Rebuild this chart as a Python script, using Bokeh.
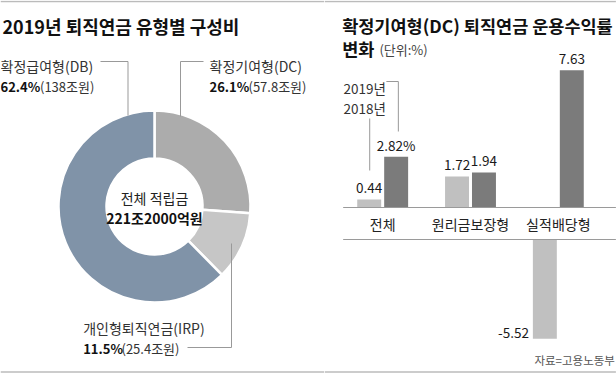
import math
from bokeh.plotting import figure
from bokeh.layouts import row
from bokeh.models import Range1d, FactorRange, ColumnDataSource
from bokeh.transform import dodge
from bokeh.core.properties import value
from bokeh.embed import file_html
from bokeh.resources import INLINE

# ---------------- data ----------------
left_title = "2019년 퇴직연금 유형별 구성비"
pie_names = ["확정기여형(DC)", "개인형퇴직연금(IRP)", "확정급여형(DB)"]
pie_shares = [26.1, 11.5, 62.4]
pie_amounts = ["57.8조원", "25.4조원", "138조원"]
pie_colors = ["#acacac", "#c6c6c6", "#8093a8"]
center_caption = "전체 적립금"
center_total = "221조2000억원"

right_title_1 = "확정기여형(DC) 퇴직연금 운용수익률"
right_title_2 = "변화"
right_unit = "(단위:%)"
categories = ["전체", "원리금보장형", "실적배당형"]
years = ["2018년", "2019년"]
returns_2018 = [0.44, 1.72, -5.52]
returns_2019 = [2.82, 1.94, 7.63]
labels_2018 = ["0.44", "1.72", "-5.52"]
labels_2019 = ["2.82%", "1.94", "7.63"]
source_note = "자료=고용노동부"

# ---------------- styling / layout ----------------
KR = "Noto Sans CJK KR"
SPLIT = 324          # x where the right panel starts
REF_W, REF_H = 616, 373
W_LEFT, W_RIGHT, H = SPLIT, REF_W - SPLIT, REF_H
BORDER = "#bbbbbb"
LEADER = "#999999"
C18, C19 = "#c0c0c0", "#7b7b7b"


def txt(p, x, y, s, size, bold=False, align="left", color="#222222", baseline="middle"):
    p.text(x=[x], y=[y], text=[s], text_font=value(KR), text_font_size=f"{size}px",
           text_font_style="bold" if bold else "normal", text_align=align,
           text_baseline=baseline, text_color=color)


def blank(p):
    p.grid.grid_line_color = None
    p.outline_line_color = None
    p.background_fill_color = "white"
    p.border_fill_color = "white"


# ---------------- left panel: donut ----------------
pl = figure(width=W_LEFT, height=H, x_range=Range1d(0, SPLIT), y_range=Range1d(REF_H, 0),
            output_backend="svg", toolbar_location=None, x_axis_location=None,
            y_axis_location=None, min_border=0)
blank(pl)

pl.line([0, SPLIT], [1, 1], line_color=BORDER, line_width=1.5)
pl.line([0, SPLIT], [371.5, 371.5], line_color=BORDER, line_width=1.5)

total = sum(pie_shares)
cum = [0.0]
for s in pie_shares:
    cum.append(cum[-1] + s)
starts = [math.pi / 2 - 2 * math.pi * c / total for c in cum[:-1]]
ends = [math.pi / 2 - 2 * math.pi * c / total for c in cum[1:]]
pl.annular_wedge(x=154, y=206, inner_radius=48, outer_radius=96,
                 inner_radius_units="screen", outer_radius_units="screen",
                 start_angle=starts, end_angle=ends, direction="clock",
                 fill_color=pie_colors, line_color="white", line_width=2.5)

# leader lines (DC, IRP, DB)
leaders = [([203, 180, 180], [61, 61, 116]),
           ([231, 231, 187], [243, 347, 347]),
           ([100, 127.5, 127.5], [61, 61, 115])]
for xs, ys in leaders:
    pl.line(xs, ys, line_color=LEADER, line_width=1)

label_pos = [(209, 65, 248), (82.7, 327, 121), (0, 65, 39.5)]
for (x, y, xa), name, share, amt in zip(label_pos, pie_names, pie_shares, pie_amounts):
    txt(pl, x, y, name, 14, color="#333333")
    txt(pl, x, y + 21, f"{share}%", 13, bold=True, color="#111111")
    txt(pl, xa, y + 21, f"({amt})", 13, color="#333333")

txt(pl, 2, 25, left_title, 18, bold=True, color="#111111")
txt(pl, 154, 197, center_caption, 14, align="center", color="#222222")
txt(pl, 154, 217, center_total, 14, bold=True, align="center", color="#111111")

# ---------------- right panel: bars ----------------
UNIT = 88.0       # px per category
PXU = 18.0        # px per percentage point
BASE = 207.0      # y of zero line
GAP = (239 - 207) / PXU   # break below category labels


def X(rx):
    return 0.5 + (rx - 382.3) / UNIT


def Y(ry):
    return (BASE - ry) / PXU


pr = figure(width=W_RIGHT, height=H,
            x_range=FactorRange(*categories, range_padding=(382.3 - SPLIT) / UNIT - 0.5,
                                range_padding_units="absolute"),
            y_range=Range1d(Y(REF_H), Y(0)),
            output_backend="svg", toolbar_location=None, x_axis_location=None,
            y_axis_location=None, min_border=0)
blank(pr)

pr.line([X(SPLIT), X(REF_W)], [Y(1), Y(1)], line_color=BORDER, line_width=1.5)
pr.line([X(SPLIT), X(REF_W)], [Y(371.5), Y(371.5)], line_color=BORDER, line_width=1.5)

OFF = 13.5 / UNIT
BW = 24 / UNIT

top18 = [v if v >= 0 else -GAP for v in returns_2018]
bot18 = [0 if v >= 0 else v - GAP for v in returns_2018]
top19 = [v if v >= 0 else -GAP for v in returns_2019]
bot19 = [0 if v >= 0 else v - GAP for v in returns_2019]
src = ColumnDataSource(dict(cat=categories, top18=top18, bot18=bot18, top19=top19, bot19=bot19))

pr.vbar(x=dodge("cat", -OFF, range=pr.x_range), top="top18", bottom="bot18", width=BW,
        source=src, fill_color=C18, line_color=None)
pr.vbar(x=dodge("cat", OFF, range=pr.x_range), top="top19", bottom="bot19", width=BW,
        source=src, fill_color=C19, line_color=None)

# axis lines around the category band
pr.line([X(342.7), X(REF_W)], [0, 0], line_color="#9a9a9a", line_width=1)
pr.line([X(342.7), X(REF_W)], [-GAP, -GAP], line_color="#9a9a9a", line_width=1)
pr.text(x=categories, y=[Y(223)] * 3, text=categories, text_font=value(KR),
        text_font_size="14px", text_align="center", text_baseline="middle", text_color="#222222")

LAB = 11.5 / PXU
for vals, labs, off in [(returns_2018, labels_2018, -OFF), (returns_2019, labels_2019, OFF)]:
    pos = [i for i, v in enumerate(vals) if v >= 0]
    neg = [i for i, v in enumerate(vals) if v < 0]
    if pos:
        s = ColumnDataSource(dict(cat=[categories[i] for i in pos],
                                  y=[vals[i] + LAB for i in pos],
                                  t=[labs[i] for i in pos]))
        pr.text(x=dodge("cat", off, range=pr.x_range), y="y", text="t", source=s,
                text_font=value(KR), text_font_size="13.5px", text_align="center",
                text_baseline="middle", text_color="#1a1a1a")
    if neg:
        s = ColumnDataSource(dict(cat=[categories[i] for i in neg],
                                  y=[vals[i] - GAP + 6 / PXU for i in neg],
                                  t=[labs[i] for i in neg]))
        pr.text(x=dodge("cat", off - BW / 2 - 4 / UNIT, range=pr.x_range), y="y", text="t",
                source=s, text_font=value(KR), text_font_size="13.5px", text_align="right",
                text_baseline="middle", text_color="#1a1a1a")

# legend with leader lines
pr.line([X(386), X(398), X(398)], [Y(81), Y(81), Y(131)], line_color=LEADER, line_width=1)
pr.line([X(369.3), X(369.3)], [Y(118), Y(170)], line_color=LEADER, line_width=1)
pr.text(x=[X(343), X(343)], y=[Y(87), Y(107)], text=[years[1], years[0]], text_font=value(KR),
        text_font_size="13.5px", text_align="left", text_baseline="middle", text_color="#333333")

pr.text(x=[X(341.7)], y=[Y(25)], text=[right_title_1], text_font=value(KR), text_font_size="17.5px",
        text_font_style="bold", text_align="left", text_baseline="middle", text_color="#111111")
pr.text(x=[X(341.7)], y=[Y(48)], text=[right_title_2], text_font=value(KR), text_font_size="17.5px",
        text_font_style="bold", text_align="left", text_baseline="middle", text_color="#111111")
pr.text(x=[X(379)], y=[Y(49)], text=[right_unit], text_font=value(KR), text_font_size="13px",
        text_align="left", text_baseline="middle", text_color="#444444")
pr.text(x=[X(615)], y=[Y(359)], text=[source_note], text_font=value(KR), text_font_size="11.5px",
        text_align="right", text_baseline="middle", text_color="#555555")

layout = row(pl, pr)
open("out.html", "w").write(file_html(layout, INLINE))
